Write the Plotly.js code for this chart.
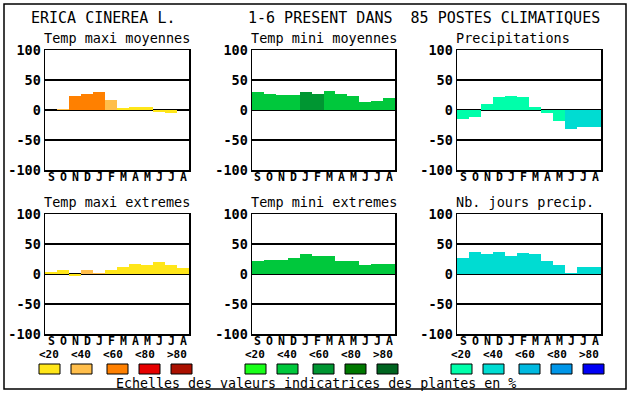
<!DOCTYPE html>
<html>
<head>
<meta charset="utf-8">
<script src="https://cdn.plot.ly/plotly-3.0.1.min.js"></script>
<style>html,body{margin:0;padding:0;background:#fff}#chart{width:630px;height:394px}</style>
</head>
<body>
<div id="chart"></div>
<script>
// ---- data ----
const months = ['S','O','N','D','J','F','M','A','M','J','J','A'];
const yTickVals = [-100, -50, 0, 50, 100];
const yTickText = ['-100', '-50', '0', '50', '100'];
const scaleLabels = ['<20', '<40', '<60', '<80', '>80'];

const panelTitles = ['Temp maxi moyennes', 'Temp mini moyennes', 'Precipitations',
                     'Temp maxi extremes', 'Temp mini extremes', 'Nb. jours precip.'];

const tempMaxiMoy   = [0, 2, 24, 27, 30, 17, 4, 5.5, 5.5, -4, -5.5, 0];
const tempMiniMoy   = [30.5, 27, 25.5, 25.5, 30.5, 27, 32, 27, 24, 14, 15.5, 20.5];
const precip        = [-14.5, -12, 10.5, 22, 24, 22, 5.5, -4.5, -18, -31, -28, -28];
const tempMaxiExt   = [4, 7, -3, 7, 2, 7, 12, 17, 15.5, 20.5, 15.5, 10.5];
const tempMiniExt   = [22, 24, 24, 27, 34, 30.5, 30.5, 22, 22, 15.5, 17, 17];
const nbJoursPrecip = [27, 37, 34, 37, 30.5, 35.5, 34, 22, 15.5, 2, 12, 12];

// indicator class per bar (1 = <20 ... 5 = >80)
const clsMaxiMoy   = [1, 2, 3, 3, 3, 2, 1, 1, 1, 1, 1, 1];
const clsMiniMoy   = [2, 2, 2, 2, 3, 3, 2, 2, 2, 2, 2, 2];
const clsPrecip    = [1, 1, 1, 1, 1, 1, 1, 1, 1, 2, 2, 2];
const clsMaxiExt   = [1, 1, 1, 2, 2, 1, 1, 1, 1, 1, 1, 1];
const clsMiniExt   = [2, 2, 2, 2, 2, 2, 2, 2, 2, 2, 2, 2];
const clsJours     = [2, 2, 2, 2, 2, 2, 2, 2, 2, 2, 2, 2];

const mainTitleLeft = 'ERICA CINEREA L.';
const mainTitleRight = '1-6 PRESENT DANS\u00a0\u00a085 POSTES CLIMATIQUES';
const footer = 'Echelles des valeurs indicatrices des plantes en %';

// ---- styles ----
const warm  = ['#ffe619', '#ffbe4b', '#ff8000', '#e60000', '#aa1000'];
const green = ['#19ff19', '#00c83c', '#009632', '#007800', '#006420'];
const blue  = ['#00ffaa', '#00dcd2', '#00b9e0', '#0096e8', '#0000f5'];

const W = 630, H = 394;
const px = v => v / W;
const py = v => 1 - v / H;

const series = [tempMaxiMoy, tempMiniMoy, precip, tempMaxiExt, tempMiniExt, nbJoursPrecip];
const classes = [clsMaxiMoy, clsMiniMoy, clsPrecip, clsMaxiExt, clsMiniExt, clsJours];
const palettes = [warm, green, blue, warm, green, blue];

const colX = [[45, 189], [252, 395], [457, 601]];
const rowY = [[50, 170], [214, 334]];
const monthLabelY = [177, 341];

const mono = 'DejaVu Sans Mono, Liberation Mono, monospace';
const traces = [];
const layout = {
  width: W, height: H,
  margin: {l: 0, r: 0, t: 0, b: 0},
  paper_bgcolor: '#fff', plot_bgcolor: '#fff',
  showlegend: false, bargap: 0,
  shapes: [], annotations: []
};

for (let i = 0; i < 6; i++) {
  const r = Math.floor(i / 3), c = i % 3;
  const sfx = i === 0 ? '' : String(i + 1);
  traces.push({
    type: 'bar', x: months.map((m, k) => k), y: series[i],
    xaxis: 'x' + sfx, yaxis: 'y' + sfx, width: 1,
    marker: {color: classes[i].map(k => palettes[i][k - 1]), line: {width: 0}},
    hoverinfo: 'y'
  });
  layout['xaxis' + sfx] = {
    domain: [px(colX[c][0]), px(colX[c][1])], anchor: 'y' + sfx,
    range: [-0.5, 11.5], showticklabels: false,
    showgrid: false, zeroline: false, showline: true, mirror: true,
    linecolor: '#000', linewidth: 1.5, ticks: '', fixedrange: true
  };
  layout['yaxis' + sfx] = {
    domain: [py(rowY[r][1]), py(rowY[r][0])], anchor: 'x' + sfx,
    range: [-100, 100], tickvals: yTickVals, ticktext: yTickText,
    showgrid: true, gridcolor: '#000', gridwidth: 1.2,
    zeroline: true, zerolinecolor: '#000', zerolinewidth: 1.5,
    showline: true, mirror: true, linecolor: '#000', linewidth: 1.5,
    ticks: '', fixedrange: true,
    tickfont: {family: mono, size: 13.5, color: '#000', weight: 'bold'}
  };
  months.forEach((m, k) => {
    layout.annotations.push({
      xref: 'x' + sfx, yref: 'paper', x: k, y: py(monthLabelY[r]), text: m,
      showarrow: false, xanchor: 'center', yanchor: 'middle',
      font: {family: mono, size: 11.5, color: '#000', weight: 'bold'}
    });
  });
  layout.annotations.push({
    xref: 'paper', yref: 'paper', x: px(colX[c][0] - 3),
    y: py(r === 0 ? 38 : 202), text: panelTitles[i], showarrow: false,
    xanchor: 'left', yanchor: 'middle',
    font: {family: mono, size: 13.5, color: '#000'}
  });
}

// main titles
layout.annotations.push({xref: 'paper', yref: 'paper', x: px(29), y: py(18), text: mainTitleLeft,
  showarrow: false, xanchor: 'left', yanchor: 'middle', font: {family: mono, size: 15, color: '#000'}});
layout.annotations.push({xref: 'paper', yref: 'paper', x: px(246), y: py(18), text: mainTitleRight,
  showarrow: false, xanchor: 'left', yanchor: 'middle', font: {family: mono, size: 15, color: '#000'}});
layout.annotations.push({xref: 'paper', yref: 'paper', x: px(316), y: py(383), text: footer,
  showarrow: false, xanchor: 'center', yanchor: 'middle', font: {family: mono, size: 13.3, color: '#000'}});

// scale legends
const groupStart = [39, 245, 451];
const boxOff = [0, 32, 68, 100, 132];
const groupPal = [warm, green, blue];
for (let g = 0; g < 3; g++) {
  for (let k = 0; k < 5; k++) {
    const x0 = groupStart[g] + boxOff[k];
    layout.shapes.push({type: 'rect', xref: 'paper', yref: 'paper',
      x0: px(x0), x1: px(x0 + 21), y0: py(374), y1: py(364),
      fillcolor: groupPal[g][k], line: {color: '#000', width: 1}});
    layout.annotations.push({xref: 'paper', yref: 'paper', x: px(groupStart[g] + 32 * k + 10), y: py(354.5),
      text: scaleLabels[k].replace('<', '&lt;').replace('>', '&gt;'), showarrow: false,
      xanchor: 'center', yanchor: 'middle', font: {family: mono, size: 11, color: '#000', weight: 'bold'}});
  }
}

// outer frame
layout.shapes.push({type: 'rect', xref: 'paper', yref: 'paper', x0: px(4), x1: px(626), y0: py(389), y1: py(4),
  line: {color: '#000', width: 1.5}, fillcolor: 'rgba(0,0,0,0)'});

Plotly.newPlot('chart', traces, layout, {displayModeBar: false, staticPlot: true});
</script>
</body>
</html>
